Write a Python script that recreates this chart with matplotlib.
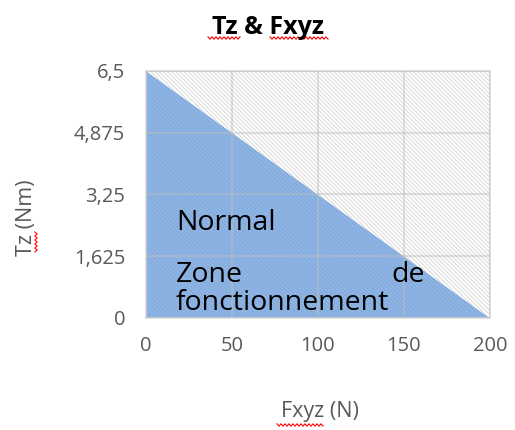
import matplotlib
matplotlib.use('Agg')
import matplotlib.pyplot as plt
import numpy as np

# Operating envelope: torque limit falling linearly with force
fxyz = [0, 50, 100, 150, 200]
tz = [6.5, 4.875, 3.25, 1.625, 0]
tz_rest = [0, 1.625, 3.25, 4.875, 6.5]

yticks = [0, 1.625, 3.25, 4.875, 6.5]
ytick_labels = ['0', '1,625', '3,25', '4,875', '6,5']
xticks = [0, 50, 100, 150, 200]

plt.rcParams['font.family'] = ['Open Sans', 'DejaVu Sans']
plt.rcParams['hatch.linewidth'] = 0.75

fig = plt.figure(figsize=(5.15, 4.3), dpi=100)
ax = fig.add_axes([0.2835, 0.2605, 0.6675, 0.5745])

# stacked areas: blue zone under the limit, hatched zone above it
ax.fill_between(fxyz, 0, tz, facecolor='#8eb5e4', edgecolor='#82aadb',
                hatch='\\\\\\\\\\\\\\\\', linewidth=0, zorder=1)
upper = np.array(tz) + np.array(tz_rest)
ax.fill_between(fxyz, tz, upper, facecolor='white', edgecolor='#dadada',
                hatch='\\\\\\\\\\\\\\\\', linewidth=0, zorder=1)

ax.set_xlim(0, 200)
ax.set_ylim(0, 6.5)
ax.set_xticks(xticks)
ax.set_yticks(yticks)
ax.set_yticklabels(ytick_labels)
ax.tick_params(length=0, labelsize=14.5, colors='#595959')
ax.tick_params(axis='y', pad=15)
ax.tick_params(axis='x', pad=13)
ax.grid(True, color='#bfbfbf', alpha=0.55, linewidth=1.2, zorder=2)
ax.set_axisbelow(False)
for sp in ax.spines.values():
    sp.set_color('#d9d9d9')
    sp.set_linewidth(1.2)

ax.text(17.4, 2.32, 'Normal', fontsize=20.5, color='black', zorder=3)
ax.text(17.4, 0.95, 'Zone', fontsize=20.5, color='black', zorder=3)
ax.text(143, 0.95, 'de', fontsize=20.5, color='black', zorder=3)
ax.text(17.4, 0.21, 'fonctionnement', fontsize=20.5, color='black', zorder=3)

fig.text(0.52, 0.937, 'Tz & Fxyz', fontsize=18, fontweight='bold',
         ha='center', va='center')
fig.text(0.621, 0.042, 'Fxyz (N)', fontsize=15.5, color='#595959',
         ha='center', va='center')
fig.text(0.052, 0.493, 'Tz (Nm)', fontsize=15.5, color='#595959',
         ha='center', va='center', rotation=90)


# red spell-check squiggles under some words
def squiggle(x0, x1, y, vertical=False):
    n = int(abs(x1 - x0) / 2) + 1
    s = np.linspace(x0, x1, n)
    w = np.where(np.arange(n) % 2 == 0, -1.2, 1.2)
    if vertical:
        xs, ys = y + w, s
    else:
        xs, ys = s, y + w
    fig.add_artist(plt.Line2D(xs / 515, 1 - ys / 430, color='red',
                              linewidth=0.8, transform=fig.transFigure))


squiggle(208, 240, 38)
squiggle(270, 328, 38)
squiggle(277, 323, 425)
squiggle(232, 252, 36, vertical=True)

fig.savefig('out.png', dpi=100)
